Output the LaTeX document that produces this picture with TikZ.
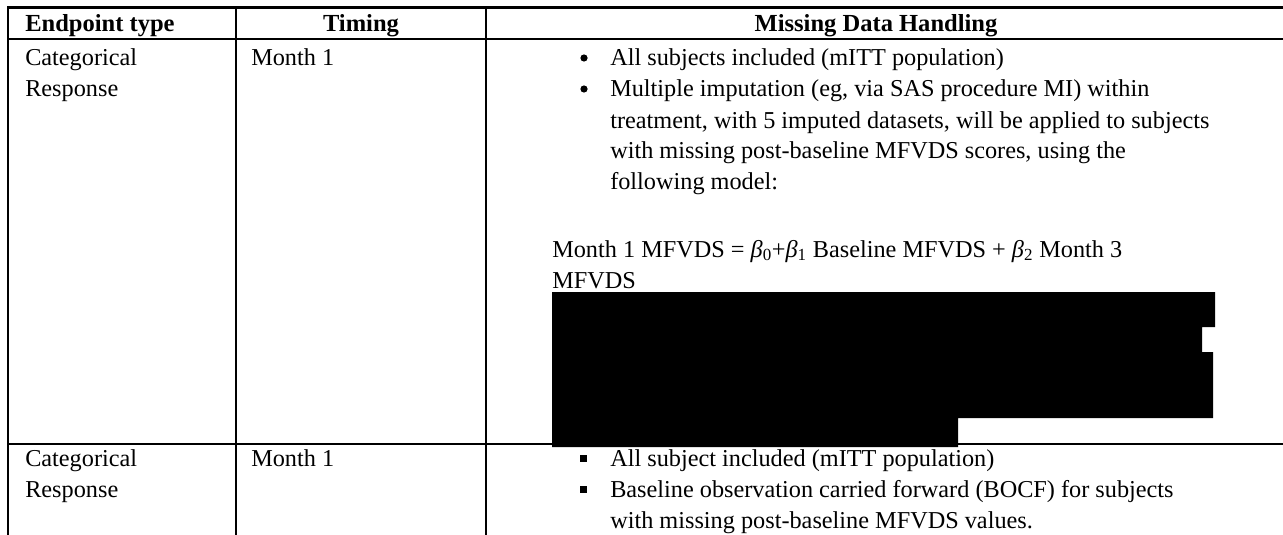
\documentclass[tikz,border=0pt]{standalone}
\usepackage{fontspec}
\setmainfont{Liberation Serif}
\usetikzlibrary{positioning}

\begin{document}
\begin{tikzpicture}[x=0.75pt, y=-0.75pt]
	\definecolor{ruleColour}{RGB}{0, 0, 0}
	\definecolor{blackoutColour}{RGB}{0, 0, 0}
	\tikzset{
		cellText/.style={inner sep=0pt, anchor=base west, font=\fontsize{18.2}{23.25}\selectfont},
		headText/.style={inner sep=0pt, anchor=base, font=\fontsize{18.4}{23.25}\selectfont\bfseries},
		outerRule/.style={color=ruleColour, line width=1.6pt},
		innerRule/.style={color=ruleColour, line width=1pt},
		redact/.style={fill=blackoutColour}
	}
	\newcommand{\coef}[1]{\textit{β}\textsubscript{#1}}

	\useasboundingbox (0, 0) rectangle (1283, 535);

	% table rules
	\draw[innerRule] (8, 39) -- (1283, 39);
	\draw[innerRule] (8, 444) -- (1283, 444);
	\draw[innerRule] (236, 7.5) -- (236, 535);
	\draw[innerRule] (486, 7.5) -- (486, 535);
	\draw[outerRule] (8, 535) -- (8, 7.5) -- (1283, 7.5);

	% header
	\node[headText, anchor=base west] (endpointHead) at (25, 32) {Endpoint type};
	\node[headText] (timingHead) at (361, 32) {Timing};
	\node[headText] (handlingHead) at (876, 32) {Missing Data Handling};

	% first row
	\node[cellText] (typeOneA) at (25, 66) {Categorical};
	\node[cellText] (typeOneB) at (25, 97) {Response};
	\node[cellText] (timeOne) at (251, 66) {Month 1};

	\fill (584, 58) circle (3.6);
	\fill (584, 89) circle (3.6);
	\node[cellText] (ruleOneA) at (610, 66) {All subjects included (mITT population)};
	\node[cellText] (ruleOneB) at (610, 97) {Multiple imputation (eg, via SAS procedure MI) within};
	\node[cellText] (ruleOneC) at (610, 128) {treatment, with 5 imputed datasets, will be applied to subjects};
	\node[cellText] (ruleOneD) at (610, 159) {with missing post-baseline MFVDS scores, using the};
	\node[cellText] (ruleOneE) at (610, 190) {following model:};
	\node[cellText] (modelA) at (552, 257) {Month 1 MFVDS = \coef{0}+\coef{1} Baseline MFVDS + \coef{2} Month 3};
	\node[cellText] (modelB) at (552, 288) {MFVDS};

	\fill[redact] (552, 292) -- (1215, 292) -- (1215, 327) -- (1202, 327) -- (1202, 352)
		-- (1213, 352) -- (1213, 418) -- (958, 418) -- (958, 447) -- (552, 447) -- cycle;

	% second row
	\node[cellText] (typeTwoA) at (25, 466) {Categorical};
	\node[cellText] (typeTwoB) at (25, 497) {Response};
	\node[cellText] (timeTwo) at (251, 466) {Month 1};

	\fill (580, 455) rectangle (587, 462);
	\fill (580, 486) rectangle (587, 493);
	\node[cellText] (ruleTwoA) at (610, 466) {All subject included (mITT population)};
	\node[cellText] (ruleTwoB) at (610, 497) {Baseline observation carried forward (BOCF) for subjects};
	\node[cellText] (ruleTwoC) at (610, 528) {with missing post-baseline MFVDS values.};
\end{tikzpicture}
\end{document}
